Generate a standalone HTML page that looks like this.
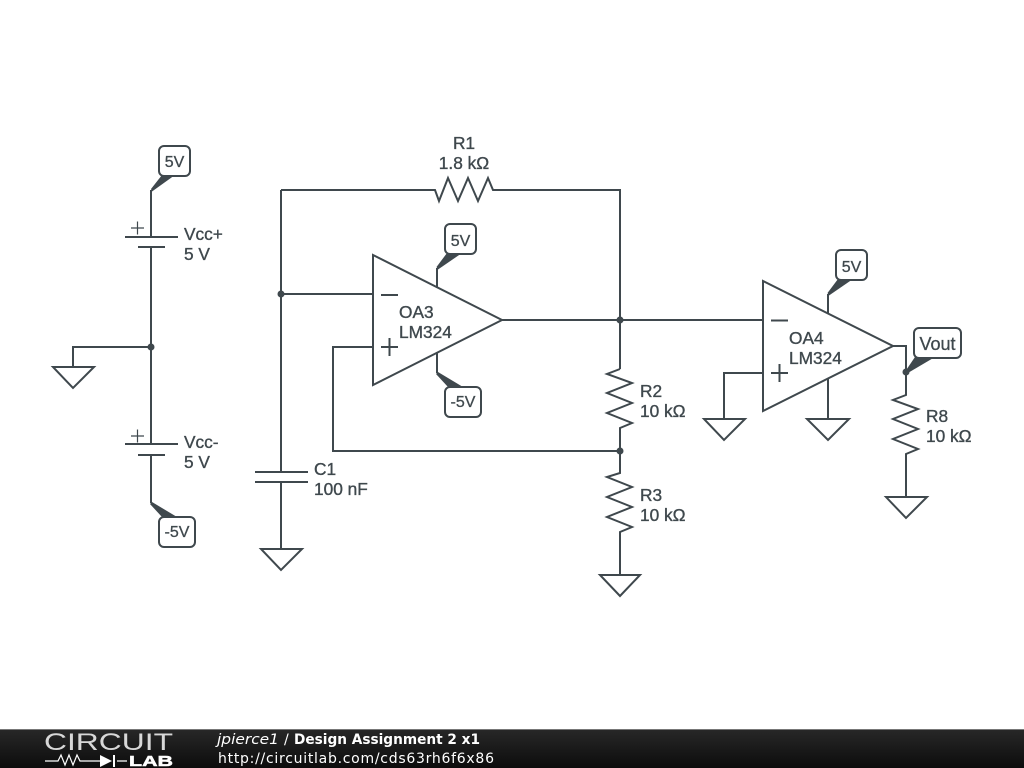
<!DOCTYPE html>
<html><head><meta charset="utf-8">
<style>
html,body{margin:0;padding:0;background:#fff}
svg{display:block}
.w{fill:none;stroke:#3f484d;stroke-width:2;stroke-linejoin:miter}
.t{font-family:"Liberation Sans",sans-serif;font-size:17.3px;font-weight:400;fill:#3f484d;stroke:#3f484d;stroke-width:.35}
.l{font-family:"Liberation Sans",sans-serif;font-size:16px;font-weight:400;fill:#3f484d;stroke:#3f484d;stroke-width:.3}
.f{font-family:"DejaVu Sans",sans-serif;font-size:14px;fill:#fff}
.b{fill:#fff;stroke:#3f484d;stroke-width:2}
.d{fill:#3f484d}
</style></head><body>
<svg width="1024" height="768" viewBox="0 0 1024 768" xmlns="http://www.w3.org/2000/svg">
<defs>
<linearGradient id="g" x1="0" y1="0" x2="0" y2="1"><stop offset="0" stop-color="#282828"/><stop offset="1" stop-color="#0c0c0c"/></linearGradient>
</defs>
<rect width="1024" height="768" fill="#fff"/>

<!-- batteries -->
<path class="w" d="M151 190V237M125 237H178M138 247H165M151 247V444M125 444H178M138 455H165M151 455V503"/>
<path class="w" style="stroke-width:1.2" d="M131 228H144M137.500 221.500V234.500M131 436H144M137.500 429.500V442.500"/>
<path class="w" d="M151 347H73V367M53 367H94L73 388Z"/>
<circle class="d" cx="151" cy="347" r="3.500"/>
<path class="d" d="M151 189L162 175H175L152 191.500Z"/>
<rect class="b" x="159" y="146" width="31" height="30" rx="5"/>
<text class="l" x="174.500" y="167" text-anchor="middle">5V</text>
<path class="d" d="M150 504L152 502L177 517H162Z"/>
<rect class="b" x="159" y="517" width="36" height="30" rx="5"/>
<text class="l" x="177" y="537" text-anchor="middle">-5V</text>
<text class="t" x="184" y="240">Vcc+</text>
<text class="t" x="184" y="260">5 V</text>
<text class="t" x="184" y="448">Vcc-</text>
<text class="t" x="184" y="468">5 V</text>

<!-- C1 + feedback -->
<path class="w" d="M281 190V472M255 472H308M255 482H308M281 482V549M261 549H302L281 570Z"/>
<circle class="d" cx="281" cy="294" r="3.500"/>
<text class="t" x="314" y="475">C1</text>
<text class="t" x="314" y="495">100 nF</text>

<!-- R1 and right rail -->
<path class="w" d="M281 190H435L439 201L448 178L458 201L468 178L478 201L488 178L493 190H620V369"/>
<text class="t" x="464" y="149" text-anchor="middle">R1</text>
<text class="t" x="464" y="169" text-anchor="middle">1.8 kΩ</text>

<!-- OA3 -->
<path class="w" d="M373 255V385L502 320Z"/>
<path class="w" d="M281 294H373M373 347H333V451H620M502 320H763"/>
<path class="w" d="M381 295H398M381 347H398M389.500 338V356"/>
<circle class="d" cx="620" cy="320" r="3.500"/>
<text class="t" x="399" y="318">OA3</text>
<text class="t" x="399" y="338">LM324</text>
<path class="w" d="M437 288V268M437 352V373"/>
<path class="d" d="M436.500 267L447 253H462L438 269.500Z"/>
<rect class="b" x="445" y="224" width="31" height="30" rx="5"/>
<text class="l" x="460.500" y="246" text-anchor="middle">5V</text>
<path class="d" d="M436 374L438 372L463 387H448Z"/>
<rect class="b" x="445" y="387" width="36" height="30" rx="5"/>
<text class="l" x="463" y="407" text-anchor="middle">-5V</text>

<!-- R2/R3 -->
<path class="w" d="M620 369L607 374L632 383L607 393L632 403L607 413L632 423L620 428V473L607 477L632 487L607 497L632 507L607 517L632 527L620 532V575M600 575H640L620 596Z"/>
<circle class="d" cx="620" cy="451" r="3.500"/>
<text class="t" x="640" y="397">R2</text>
<text class="t" x="640" y="417">10 kΩ</text>
<text class="t" x="640" y="501">R3</text>
<text class="t" x="640" y="521">10 kΩ</text>

<!-- OA4 -->
<path class="w" d="M763 281V411L893 346Z"/>
<path class="w" d="M771 320.500H788M771 373H788M779.500 364V382"/>
<text class="t" x="789" y="344">OA4</text>
<text class="t" x="789" y="364">LM324</text>
<path class="w" d="M763 373H724V419M704 419H745L724 440ZM828 379V419M807 419H849L828 440ZM828 314V294"/>
<path class="d" d="M827.500 293L838 279H853L829 295.500Z"/>
<rect class="b" x="836" y="250" width="31" height="30" rx="5"/>
<text class="l" x="851.500" y="272" text-anchor="middle">5V</text>
<path class="w" d="M893 346H906V395L893 400L918 409L893 419L918 429L893 439L918 449L906 454V497M886 497H927L906 518Z"/>
<circle class="d" cx="906" cy="372" r="3.500"/>
<path class="d" d="M905.500 371L915 357H935L907 373.500Z"/>
<rect class="b" x="914" y="328" width="47" height="30" rx="5"/>
<text class="l" x="937.500" y="350" text-anchor="middle" style="font-size:18px">Vout</text>
<text class="t" x="926" y="422">R8</text>
<text class="t" x="926" y="442">10 kΩ</text>

<!-- footer -->
<rect x="0" y="729" width="1024" height="39" fill="url(#g)"/>
<rect x="0" y="729" width="1024" height="1" fill="#777"/>
<text x="44" y="750" font-family="Liberation Sans,sans-serif" font-size="24" fill="#d8d8d8" textLength="129" lengthAdjust="spacingAndGlyphs">CIRCUIT</text>
<path fill="none" stroke="#fff" stroke-width="1.200" d="M45 761H58L61 755L65 765L69 755L73 765L77 755L80 761H100M117 761H127"/>
<path fill="#fff" d="M100 755L112 761L100 767ZM113 755H115V767H113Z"/>
<text x="129" y="766" font-family="Liberation Sans,sans-serif" font-size="15" font-weight="700" fill="#fff" stroke="#fff" stroke-width=".5" textLength="44" lengthAdjust="spacingAndGlyphs">LAB</text>
<text class="f" x="217" y="744" font-style="italic" textLength="62" lengthAdjust="spacingAndGlyphs">jpierce1</text>
<text class="f" x="284" y="744">/</text>
<text class="f" x="294" y="744" font-weight="700" textLength="186" lengthAdjust="spacingAndGlyphs">Design Assignment 2 x1</text>
<text class="f" x="218" y="763" textLength="276" lengthAdjust="spacing">http://circuitlab.com/cds63rh6f6x86</text>
</svg>
</body></html>
